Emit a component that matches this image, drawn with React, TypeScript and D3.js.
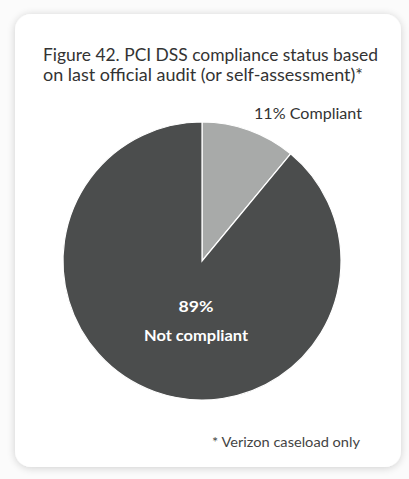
import React from "react";
import * as d3 from "d3";

const categories = ["Compliant", "Not compliant"];
const values = [11, 89];
const colors = ["#a8aaa9", "#4b4d4d"];
const titleLines = [
  "Figure 42. PCI DSS compliance status based",
  "on last official audit (or self-assessment)*",
];
const footnote = "* Verizon caseload only";

export default function App() {
  const W = 409, H = 479;
  const cx = 202, cy = 261, r = 139;
  const pie = d3.pie<number>().sort(null).value((d) => d)(values);
  const arc = d3.arc<d3.PieArcDatum<number>>().innerRadius(0).outerRadius(r);
  const titleLens = [335, 320];
  return (
    <svg width={W} height={H} style={{ position: "absolute", left: 0, top: 0, fontFamily: "Lato, 'Open Sans', sans-serif" }}>
      <defs>
        <filter id="sh" x="-10%" y="-10%" width="120%" height="120%">
          <feGaussianBlur in="SourceAlpha" stdDeviation="4" />
          <feOffset dx="0" dy="1" />
          <feComponentTransfer><feFuncA type="linear" slope="0.18" /></feComponentTransfer>
          <feMerge><feMergeNode /><feMergeNode in="SourceGraphic" /></feMerge>
        </filter>
      </defs>
      <rect x={0} y={0} width={W} height={H} fill="#fbfbfb" />
      <rect x={15} y={14} width={386} height={453} rx={16} fill="#ffffff" filter="url(#sh)" />
      {titleLines.map((t, i) => (
        <text key={i} x={43} y={61 + i * 20} fontSize={17} fill="#333333" textLength={titleLens[i]} lengthAdjust="spacingAndGlyphs">{t}</text>
      ))}
      <g transform={`translate(${cx},${cy})`}>
        {pie.map((p, i) => (
          <path key={categories[i]} d={arc(p) || ""} fill={colors[i]} stroke="#ffffff" strokeWidth={1.2} />
        ))}
        <text x={-6} y={51} textAnchor="middle" fontSize={14.5} fontWeight="bold" fill="#ffffff" textLength={35} lengthAdjust="spacingAndGlyphs">{values[1]}%</text>
        <text x={-6} y={80} textAnchor="middle" fontSize={15.5} fontWeight="bold" fill="#ffffff" textLength={104} lengthAdjust="spacingAndGlyphs">{categories[1]}</text>
      </g>
      <text x={254} y={119} fontSize={15.5} fill="#333333" textLength={108} lengthAdjust="spacingAndGlyphs">{values[0]}% {categories[0]}</text>
      <text x={212} y={447} fontSize={13.5} fill="#444444" textLength={148} lengthAdjust="spacingAndGlyphs">{footnote}</text>
    </svg>
  );
}
